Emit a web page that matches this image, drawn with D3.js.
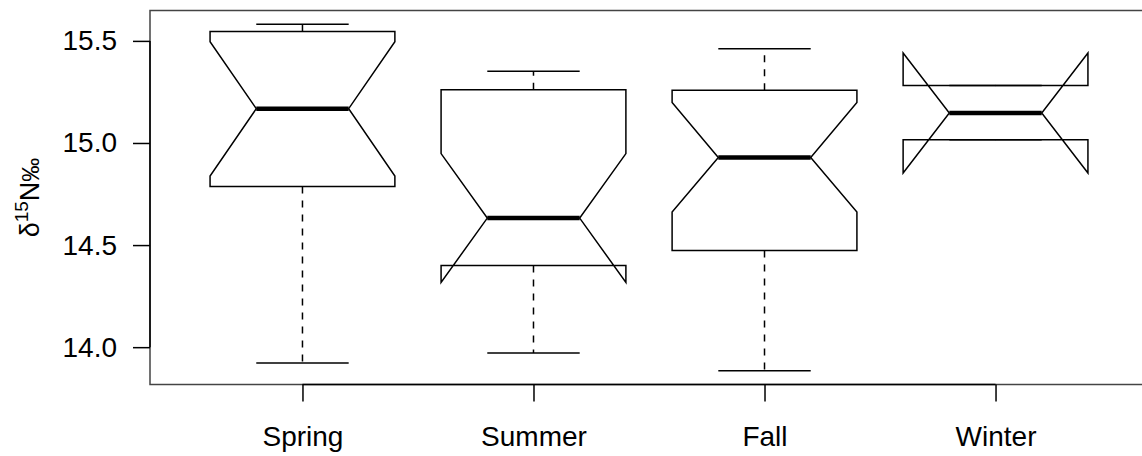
<!DOCTYPE html>
<html>
<head>
<meta charset="utf-8">
<script src="https://cdn.jsdelivr.net/npm/d3@7"></script>
<style>
  html, body { margin: 0; padding: 0; background: #fff; }
  svg { display: block; font-family: "Liberation Sans", Arial, Helvetica, sans-serif; }
</style>
</head>
<body>
<svg id="chart" width="1142" height="456"></svg>
<script>
// ---- data ----
const categories   = ["Spring", "Summer", "Fall", "Winter"];
const lowerWhisker = [13.922, 13.971, 13.885, 15.016];
const q1           = [14.787, 14.400, 14.474, 15.016];
const median       = [15.168, 14.632, 14.929, 15.147];
const q3           = [15.546, 15.261, 15.258, 15.281];
const upperWhisker = [15.581, 15.351, 15.462, 15.281];
const notchLow     = [14.838, 14.317, 14.662, 14.853];
const notchHigh    = [15.496, 14.948, 15.198, 15.441];
const yTicks       = [14.0, 14.5, 15.0, 15.5];
const yTickLabels  = ["14.0", "14.5", "15.0", "15.5"];

const boxes = categories.map((c, i) => ({
  cat: c, pos: i + 1,
  lw: lowerWhisker[i], q1: q1[i], med: median[i], q3: q3[i], uw: upperWhisker[i],
  nl: notchLow[i], nh: notchHigh[i]
}));

const svg = d3.select("#chart");
const pLeft = 150, pRight = 1148, pTop = 10.5, pBottom = 384.5;

// R-style ranges: x from 0.5..n+0.5, 4% expansion; y data range with 4% expansion
const n = categories.length;
const xPad = n * 0.04;
const x = d3.scaleLinear().domain([0.5 - xPad, n + 0.5 + xPad]).range([pLeft, pRight]);
const allVals = lowerWhisker.concat(upperWhisker, q1, q3);
const yMin = d3.min(allVals), yMax = d3.max(allVals);
const yPad = (yMax - yMin) * 0.04;
const y = d3.scaleLinear().domain([yMin - yPad, yMax + yPad]).range([pBottom, pTop]);

const halfW = 0.4;   // boxwex 0.8
const lw = 1.5;

// frame
svg.append("rect")
  .attr("x", pLeft).attr("y", pTop)
  .attr("width", pRight - pLeft).attr("height", pBottom - pTop)
  .attr("fill", "none").attr("stroke", "#444").attr("stroke-width", 1.5);

const g = svg.append("g");

boxes.forEach(b => {
  const xc = x(b.pos), xl = x(b.pos - halfW), xr = x(b.pos + halfW);
  const xnl = x(b.pos - halfW / 2), xnr = x(b.pos + halfW / 2);
  // whiskers (dashed)
  g.append("line").attr("x1", xc).attr("x2", xc).attr("y1", y(b.q1)).attr("y2", y(b.lw))
    .attr("stroke", "#000").attr("stroke-width", lw).attr("stroke-dasharray", "7,7");
  g.append("line").attr("x1", xc).attr("x2", xc).attr("y1", y(b.q3)).attr("y2", y(b.uw))
    .attr("stroke", "#000").attr("stroke-width", lw).attr("stroke-dasharray", "7,7");
  // staples
  [b.lw, b.uw].forEach(v => {
    g.append("line").attr("x1", xnl).attr("x2", xnr).attr("y1", y(v)).attr("y2", y(v))
      .attr("stroke", "#000").attr("stroke-width", lw);
  });
  // notched box polygon
  const pts = [
    [xl, y(b.q1)], [xl, y(b.nl)], [xnl, y(b.med)], [xl, y(b.nh)], [xl, y(b.q3)],
    [xr, y(b.q3)], [xr, y(b.nh)], [xnr, y(b.med)], [xr, y(b.nl)], [xr, y(b.q1)]
  ];
  g.append("polygon").attr("points", pts.map(p => p.join(",")).join(" "))
    .attr("fill", "none").attr("stroke", "#000").attr("stroke-width", lw)
    .attr("stroke-linejoin", "miter");
  // median
  g.append("line").attr("x1", xnl).attr("x2", xnr).attr("y1", y(b.med)).attr("y2", y(b.med))
    .attr("stroke", "#000").attr("stroke-width", 4.5);
});

// axes
const fontSize = 28;
const yAxis = d3.axisLeft(y).tickValues(yTicks).tickFormat((d, i) => yTickLabels[i])
  .tickSize(17).tickPadding(16);
const ya = svg.append("g").attr("transform", `translate(${pLeft},0)`).call(yAxis);
ya.select(".domain").attr("d", `M0,${y(yTicks[0])}V${y(yTicks[yTicks.length - 1])}`)
  .attr("stroke", "#000").attr("stroke-width", 1.5);
ya.selectAll(".tick line").attr("stroke", "#000").attr("stroke-width", 1.5);
ya.selectAll(".tick text").attr("font-size", fontSize).attr("fill", "#000")
  .attr("font-family", "Liberation Sans, Arial, sans-serif");

const xAxis = d3.axisBottom(x).tickValues(boxes.map(b => b.pos))
  .tickFormat((d, i) => categories[i]).tickSize(17).tickPadding(25);
const xa = svg.append("g").attr("transform", `translate(0,${pBottom})`).call(xAxis);
xa.select(".domain").attr("d", `M${x(1)},0H${x(n)}`)
  .attr("stroke", "#000").attr("stroke-width", 1.5);
xa.selectAll(".tick line").attr("stroke", "#000").attr("stroke-width", 1.5);
xa.selectAll(".tick text").attr("font-size", fontSize).attr("fill", "#000")
  .attr("font-family", "Liberation Sans, Arial, sans-serif");

// y title: δ15N‰
const title = svg.append("text")
  .attr("transform", `translate(39,${(pTop + pBottom) / 2}) rotate(-90)`)
  .attr("text-anchor", "middle").attr("font-size", 27).attr("fill", "#000");
title.append("tspan").text("δ");
title.append("tspan").attr("font-size", 19).attr("dy", -11).text("15");
title.append("tspan").attr("dy", 11).text("N");
title.append("tspan").attr("font-size", 24).text("‰");
</script>
</body>
</html>
